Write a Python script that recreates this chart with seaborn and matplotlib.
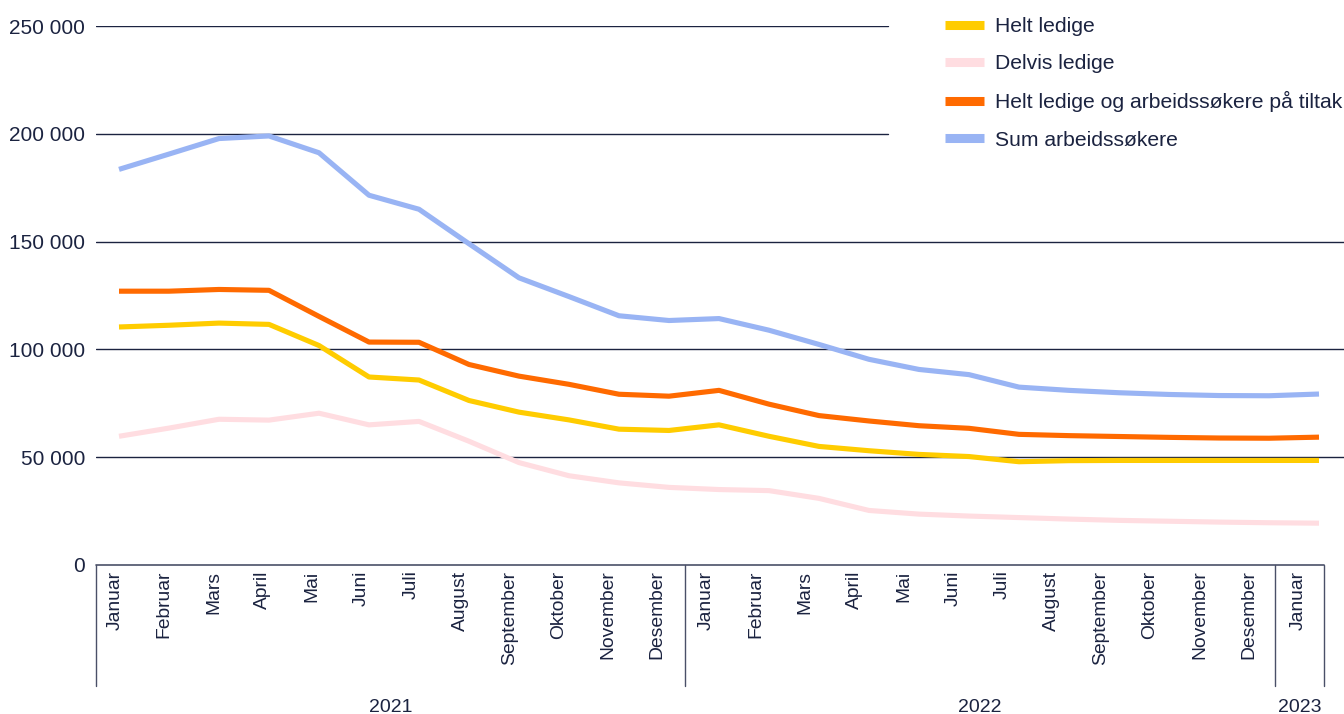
import matplotlib
matplotlib.use("Agg")
import matplotlib.pyplot as plt
import matplotlib.transforms as mtransforms
from matplotlib.ticker import FuncFormatter, FixedLocator
from matplotlib.lines import Line2D
import numpy as np
import pandas as pd
import seaborn as sns

# ---------------- data ----------------
months = ["Januar", "Februar", "Mars", "April", "Mai", "Juni", "Juli", "August",
          "September", "Oktober", "November", "Desember",
          "Januar", "Februar", "Mars", "April", "Mai", "Juni", "Juli", "August",
          "September", "Oktober", "November", "Desember",
          "Januar"]
years = ["2021", "2022", "2023"]

series_names = ["Helt ledige", "Delvis ledige",
                "Helt ledige og arbeidssøkere på tiltak", "Sum arbeidssøkere"]

helt_ledige = [110400, 111200, 112200, 111600, 101800, 87200, 85800, 76300,
               70900, 67300, 63000, 62400, 65000, 59700, 55000, 53000, 51300,
               50300, 47900, 48400, 48500, 48500, 48500, 48500, 48500]
delvis_ledige = [59700, 63500, 67600, 67200, 70400, 65000, 66600, 57400,
                 47500, 41400, 38100, 36000, 35000, 34500, 30900, 25300, 23600,
                 22700, 22000, 21300, 20700, 20300, 19900, 19600, 19400]
helt_tiltak = [127000, 127000, 127800, 127400, 115300, 103400, 103300, 93000,
               87600, 83800, 79200, 78300, 81000, 74600, 69300, 66800, 64600,
               63400, 60600, 60000, 59600, 59200, 58900, 58800, 59300]
sum_arbeidssokere = [183500, 190600, 197800, 199000, 191200, 171500, 165000,
                     149000, 133200, 124500, 115600, 113400, 114300, 108900,
                     102300, 95400, 90700, 88300, 82500, 81000, 79900, 79100,
                     78600, 78500, 79300]

colors = ["#FFCC00", "#FFDDE1", "#FF6A00", "#99B4F4"]
navy = "#1B2340"

# ---------------- build frame ----------------
idx = np.arange(len(months))
df = pd.concat([
    pd.DataFrame({"x": idx, "verdi": vals, "serie": name})
    for name, vals in zip(series_names,
                          [helt_ledige, delvis_ledige, helt_tiltak, sum_arbeidssokere])
], ignore_index=True)

# ---------------- figure ----------------
W, H = 1344, 714
fig = plt.figure(figsize=(W / 100, H / 100), dpi=100)
sns.set_style("white")
plt.rcParams["font.family"] = ["Liberation Sans", "DejaVu Sans"]

ax_left, ax_right, ax_top, ax_bottom = 96, 1344, 26, 565
ax = fig.add_axes([ax_left / W, (H - ax_bottom) / H,
                   (ax_right - ax_left) / W, (ax_bottom - ax_top) / H])

# x: point 0 at px 119, 50 px per month
x0_px, step_px = 119, 50
xmin = (ax_left - x0_px) / step_px
xmax = (ax_right - x0_px) / step_px
ax.set_xlim(xmin, xmax)
ax.set_ylim(0, 250000)

# gridlines (upper two stop where the legend begins)
legend_left_px = 888
frac = (legend_left_px - ax_left) / (ax_right - ax_left)
for yv in [50000, 100000, 150000, 200000, 250000]:
    xm = frac if yv >= 200000 else 1.0
    ax.axhline(yv, xmin=0, xmax=xm, color=navy, lw=1.0, zorder=1)

sns.lineplot(data=df, x="x", y="verdi", hue="serie", hue_order=series_names,
             palette=colors, linewidth=3.7, ax=ax, legend=False, zorder=3,
             solid_joinstyle="round", solid_capstyle="butt")

for s in ax.spines.values():
    s.set_visible(False)

# y ticks
ax.yaxis.set_major_locator(FixedLocator([0, 50000, 100000, 150000, 200000, 250000]))
ax.yaxis.set_major_formatter(FuncFormatter(lambda v, p: f"{int(v):,}".replace(",", " ")))
ax.tick_params(axis="y", length=0, pad=8, labelsize=15, labelcolor=navy)

# category frame
band_right = (1324 - x0_px) / step_px
div1 = (685 - x0_px) / step_px
div2 = (1275 - x0_px) / step_px
frame_bottom = -(686 - ax_bottom) / (ax_bottom - ax_top)
trans = mtransforms.blended_transform_factory(ax.transData, ax.transAxes)
ax.plot([xmin, band_right], [0, 0], transform=trans, color="#4A5068", lw=1.2,
        clip_on=False, zorder=4)
for xv in [xmin, div1, div2, band_right]:
    ax.plot([xv, xv], [0, frame_bottom], transform=trans, color="#4A5068", lw=1.0,
            clip_on=False)

# month labels
label_pos = np.linspace((115 - x0_px) / step_px, (1298 - x0_px) / step_px, len(months))
ax.set_xticks(label_pos)
ax.set_xticklabels(months, rotation=90, fontsize=13.9, color=navy, va="top", ha="center")
ax.tick_params(axis="x", length=0, pad=4)
ax.set_xlabel("")
ax.set_ylabel("")

# year labels
edges = [xmin, div1, div2, band_right]
year_y = -(708 - ax_bottom) / (ax_bottom - ax_top)
for i, yr in enumerate(years):
    ax.text((edges[i] + edges[i + 1]) / 2, year_y, yr, transform=trans,
            ha="center", va="center", fontsize=14, color=navy)

# legend
handles = [Line2D([0], [0], color=c, lw=6.5, solid_capstyle="butt") for c in colors]
leg = fig.legend(handles, series_names, loc="upper left",
                 bbox_to_anchor=(945 / W, 1 - 17 / H), frameon=False,
                 fontsize=15.2, handlelength=1.86, handletextpad=0.52,
                 labelspacing=0.86, borderpad=0, borderaxespad=0)
for t in leg.get_texts():
    t.set_color(navy)

fig.savefig("out.png", dpi=100)
